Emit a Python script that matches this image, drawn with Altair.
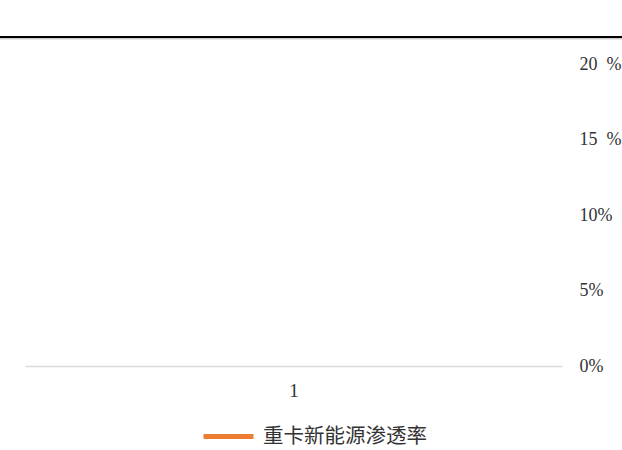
import altair as alt
import pandas as pd

categories = ["1"]
series_name = "重卡新能源渗透率"
values = [None]
y_ticks = [0, 0.05, 0.10, 0.15, 0.20]

df = pd.DataFrame({"cat": categories, "val": values, "series": [series_name] * len(categories)})

label_font = "Liberation Serif"
nb = "\u00a0"

line = alt.Chart(df).mark_line(strokeWidth=3).encode(
    x=alt.X("cat:N", scale=alt.Scale(domain=categories),
            axis=alt.Axis(title=None, labelAngle=0, ticks=False, domainColor="#d9d9d9",
                          domainWidth=1.5, labelFont=label_font, labelFontSize=19,
                          labelColor="#333333", labelPadding=15, grid=False)),
    y=alt.Y("val:Q", scale=alt.Scale(domain=[0, 0.2], nice=False),
            axis=alt.Axis(orient="right", title=None, values=y_ticks, ticks=False, domain=False,
                          grid=False, labelFont=label_font, labelFontSize=18, labelColor="#333333",
                          labelPadding=17,
                          labelExpr=f"datum.value >= 0.15 ? '{nb}' + format(datum.value*100,'d') + '{nb}{nb}%' : format(datum.value*100,'d') + '%'")),
    color=alt.Color("series:N", scale=alt.Scale(domain=[series_name], range=["#ED7D31"]),
                    legend=alt.Legend(title=None, orient="none", legendX=176, legendY=345,
                                      symbolType="stroke", symbolSize=2500, symbolStrokeWidth=5,
                                      labelFont="Noto Sans CJK SC", labelFontSize=20.5,
                                      labelLimit=400,
                                      labelColor="#333333", labelOffset=7, padding=0)),
)

top_black = alt.Chart(df).mark_rule(color="black", strokeWidth=2).encode(
    x=alt.value(-25), x2=alt.value(597), y=alt.value(-27))
top_gray = alt.Chart(df).mark_rule(color="#a0a0a0", strokeWidth=0.8).encode(
    x=alt.value(-25), x2=alt.value(597), y=alt.value(-25.2))

chart = alt.layer(top_black, top_gray, line).properties(
    width=537, height=302,
    autosize=alt.AutoSizeParams(type="none"),
    padding={"left": 25, "top": 64, "right": 60, "bottom": 84},
).configure_view(stroke=None)

chart.save("out.html", embed_options={"renderer": "svg", "actions": False})
